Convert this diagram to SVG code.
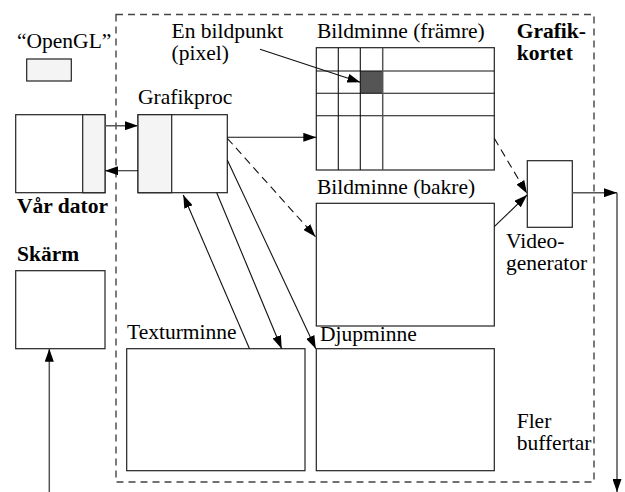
<svg xmlns="http://www.w3.org/2000/svg" width="625" height="492" viewBox="0 0 625 492">
<defs>
<style>
text{font-family:"Liberation Serif","Times New Roman",serif;font-size:21.5px;fill:#000}
.b{font-weight:bold}
.box{fill:#fff;stroke:#222;stroke-width:1.2}
.sh{fill:#f4f4f4;stroke:#222;stroke-width:1.2}
.ln{fill:none;stroke:#111;stroke-width:1.1}
.gl{fill:none;stroke:#555;stroke-width:1.5}
.da{fill:none;stroke:#111;stroke-width:1.1;stroke-dasharray:8,5}
</style>
<marker id="ah" markerUnits="userSpaceOnUse" markerWidth="13" markerHeight="9" refX="13" refY="4.5" orient="auto">
<path d="M0,0 L13,4.5 L0,9 z" fill="#000"/>
</marker>
</defs>
<rect id="grafikkortet" x="116" y="14.5" width="478" height="467.5" fill="none" stroke="#444" stroke-width="1.4" stroke-dasharray="7,5"/>
<g id="opengl">
<text x="17" y="47.5">“OpenGL”</text>
<rect class="sh" x="26.7" y="59" width="44.6" height="22"/>
</g>
<g id="vardator">
<rect class="box" x="15.7" y="114.7" width="89.3" height="78"/>
<rect class="sh" x="82.7" y="114.7" width="22.3" height="78"/>
<text class="b" x="17" y="213">Vår dator</text>
</g>
<g id="grafikproc">
<text x="138" y="104">Grafikproc</text>
<rect class="box" x="138" y="114.7" width="89.3" height="78"/>
<rect class="sh" x="138" y="114.7" width="33.7" height="78"/>
</g>
<g id="bildminne-framre">
<text x="317" y="37.7">Bildminne (främre)</text>
<rect class="box" x="316.3" y="47.7" width="178" height="122.3"/>
<rect x="360.3" y="71" width="22.4" height="22.3" fill="#555"/>
<path class="ln" d="M338.3,47.7V170M360.3,47.7V170M316.3,71H494.3M316.3,93.3H494.3M316.3,115.7H494.3"/>
<path class="gl" d="M382.7,47.7V170"/>
</g>
<g id="pixel-label">
<text x="171.5" y="37.7">En bildpunkt</text>
<text x="171.5" y="59.5">(pixel)</text>
</g>
<g id="bildminne-bakre">
<text x="317" y="194.3">Bildminne (bakre)</text>
<rect class="box" x="316.3" y="203.3" width="178" height="122.7"/>
</g>
<g id="videogenerator">
<rect class="box" x="527.3" y="160.7" width="45" height="66.6"/>
<text x="506" y="248">Video-</text>
<text x="506" y="270">generator</text>
</g>
<g id="grafik-kortet-label">
<text class="b" x="516.7" y="37.5">Grafik-</text>
<text class="b" x="516.7" y="59.8">kortet</text>
</g>
<g id="skarm">
<text class="b" x="17" y="260.7">Skärm</text>
<rect class="box" x="15.7" y="270.7" width="89.3" height="78"/>
</g>
<g id="texturminne">
<text x="127" y="339">Texturminne</text>
<rect class="box" x="126.7" y="348.7" width="178.3" height="122"/>
</g>
<g id="djupminne">
<text x="320" y="341">Djupminne</text>
<rect class="box" x="316.3" y="348.7" width="178" height="122"/>
</g>
<g id="flerbuffertar">
<text x="516.7" y="427.7">Fler</text>
<text x="516.7" y="450">buffertar</text>
</g>
<g id="connectors">
<path class="gl" d="M105,125.7H138" marker-end="url(#ah)"/>
<path class="ln" d="M138,170.7H105" marker-end="url(#ah)"/>
<path class="ln" d="M227.3,137.3H316.3" marker-end="url(#ah)"/>
<path class="ln" d="M260,49.3L360.3,82.3" marker-end="url(#ah)"/>
<path class="da" d="M227.3,138.3L315.5,236.7" marker-end="url(#ah)"/>
<path class="da" d="M494.3,138.3L527,193.5" marker-end="url(#ah)"/>
<path class="ln" d="M494.3,226.7L527,195" marker-end="url(#ah)"/>
<path class="gl" d="M572.3,192.7H617" marker-end="url(#ah)"/>
<path class="ln" d="M617,192.7V492" marker-end="url(#ah)"/>
<path class="ln" d="M249.5,348.7L183.3,195" marker-end="url(#ah)"/>
<path class="ln" d="M216.7,192.7L281.7,348.7" marker-end="url(#ah)"/>
<path class="ln" d="M227.3,160L315.8,348.7" marker-end="url(#ah)"/>
<path class="gl" d="M49.3,492V348.7" marker-end="url(#ah)"/>
</g>
</svg>
